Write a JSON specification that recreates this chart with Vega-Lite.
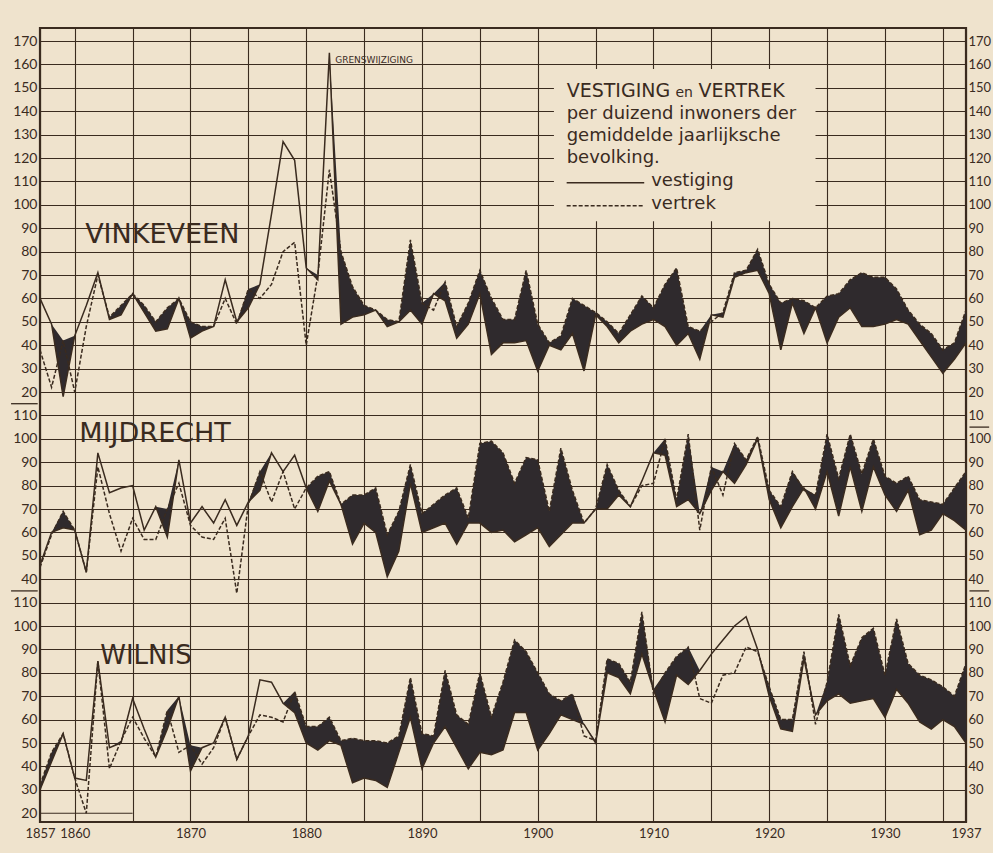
{
"$schema": "https://vega.github.io/schema/vega-lite/v6.json",
"width": 926, "height": 794,
"autosize": {"type": "none"},
"padding": {"left": 40, "top": 28, "right": 27, "bottom": 31},
"background": "#efe3cd",
"config": {
 "view": {"stroke": "#3a2b1f", "strokeWidth": 2.2},
 "axis": {"labelFont": "Lato", "labelFontSize": 14, "labelColor": "#3a2b1f", "domain": false, "ticks": false, "gridColor": "#3a2b1f", "gridOpacity": 1, "gridWidth": 1.1, "title": null, "labelOverlap": false},
 "text": {"font": "DejaVu Sans", "color": "#3a2b1f", "align": "left", "baseline": "alphabetic"}
},
"datasets": {
 "vinkeveen": [
  {"year":1857,"vestiging":60,"vertrek":38},{"year":1858,"vestiging":49,"vertrek":22},{"year":1859,"vestiging":18,"vertrek":42},{"year":1860,"vestiging":44,"vertrek":20},{"year":1861,"vestiging":57,"vertrek":48},{"year":1862,"vestiging":71,"vertrek":70},{"year":1863,"vestiging":51,"vertrek":52},{"year":1864,"vestiging":53,"vertrek":57},{"year":1865,"vestiging":62,"vertrek":62},{"year":1866,"vestiging":54,"vertrek":57},{"year":1867,"vestiging":46,"vertrek":50},{"year":1868,"vestiging":47,"vertrek":56},{"year":1869,"vestiging":60,"vertrek":60},{"year":1870,"vestiging":43,"vertrek":50},{"year":1871,"vestiging":46,"vertrek":48},{"year":1872,"vestiging":48,"vertrek":48},{"year":1873,"vestiging":68,"vertrek":60},{"year":1874,"vestiging":50,"vertrek":49},{"year":1875,"vestiging":56,"vertrek":64},{"year":1876,"vestiging":66,"vertrek":60},{"year":1877,"vestiging":96,"vertrek":66},{"year":1878,"vestiging":127,"vertrek":80},{"year":1879,"vestiging":119,"vertrek":84},{"year":1880,"vestiging":73,"vertrek":40},{"year":1881,"vestiging":68,"vertrek":70},{"year":1882,"vestiging":165,"vertrek":115},{"year":1883,"vestiging":49,"vertrek":80},{"year":1884,"vestiging":52,"vertrek":65},{"year":1885,"vestiging":53,"vertrek":57},{"year":1886,"vestiging":55,"vertrek":55},{"year":1887,"vestiging":48,"vertrek":51},{"year":1888,"vestiging":50,"vertrek":50},{"year":1889,"vestiging":55,"vertrek":85},{"year":1890,"vestiging":49,"vertrek":58},{"year":1891,"vestiging":62,"vertrek":55},{"year":1892,"vestiging":59,"vertrek":67},{"year":1893,"vestiging":43,"vertrek":48},{"year":1894,"vestiging":49,"vertrek":58},{"year":1895,"vestiging":62,"vertrek":72},{"year":1896,"vestiging":36,"vertrek":60},{"year":1897,"vestiging":41,"vertrek":51},{"year":1898,"vestiging":41,"vertrek":51},{"year":1899,"vestiging":42,"vertrek":72},{"year":1900,"vestiging":29,"vertrek":49},{"year":1901,"vestiging":40,"vertrek":41},{"year":1902,"vestiging":38,"vertrek":44},{"year":1903,"vestiging":45,"vertrek":60},{"year":1904,"vestiging":29,"vertrek":57},{"year":1905,"vestiging":53,"vertrek":54},{"year":1906,"vestiging":48,"vertrek":50},{"year":1907,"vestiging":41,"vertrek":45},{"year":1908,"vestiging":46,"vertrek":53},{"year":1909,"vestiging":49,"vertrek":61},{"year":1910,"vestiging":51,"vertrek":56},{"year":1911,"vestiging":48,"vertrek":66},{"year":1912,"vestiging":40,"vertrek":73},{"year":1913,"vestiging":45,"vertrek":48},{"year":1914,"vestiging":34,"vertrek":46},{"year":1915,"vestiging":53,"vertrek":50},{"year":1916,"vestiging":52,"vertrek":54},{"year":1917,"vestiging":69,"vertrek":71},{"year":1918,"vestiging":71,"vertrek":72},{"year":1919,"vestiging":72,"vertrek":81},{"year":1920,"vestiging":62,"vertrek":66},{"year":1921,"vestiging":38,"vertrek":58},{"year":1922,"vestiging":58,"vertrek":60},{"year":1923,"vestiging":45,"vertrek":59},{"year":1924,"vestiging":56,"vertrek":56},{"year":1925,"vestiging":41,"vertrek":61},{"year":1926,"vestiging":52,"vertrek":62},{"year":1927,"vestiging":56,"vertrek":68},{"year":1928,"vestiging":48,"vertrek":71},{"year":1929,"vestiging":48,"vertrek":69},{"year":1930,"vestiging":49,"vertrek":69},{"year":1931,"vestiging":51,"vertrek":64},{"year":1932,"vestiging":49,"vertrek":55},{"year":1933,"vestiging":42,"vertrek":49},{"year":1934,"vestiging":35,"vertrek":45},{"year":1935,"vestiging":28,"vertrek":38},{"year":1936,"vestiging":34,"vertrek":41},{"year":1937,"vestiging":41,"vertrek":55}
 ],
 "mijdrecht": [
  {"year":1857,"vestiging":46,"vertrek":45},{"year":1858,"vestiging":60,"vertrek":59},{"year":1859,"vestiging":62,"vertrek":69},{"year":1860,"vestiging":61,"vertrek":61},{"year":1861,"vestiging":43,"vertrek":43},{"year":1862,"vestiging":94,"vertrek":88},{"year":1863,"vestiging":77,"vertrek":68},{"year":1864,"vestiging":79,"vertrek":52},{"year":1865,"vestiging":80,"vertrek":66},{"year":1866,"vestiging":61,"vertrek":57},{"year":1867,"vestiging":71,"vertrek":57},{"year":1868,"vestiging":58,"vertrek":70},{"year":1869,"vestiging":91,"vertrek":81},{"year":1870,"vestiging":64,"vertrek":63},{"year":1871,"vestiging":71,"vertrek":58},{"year":1872,"vestiging":64,"vertrek":57},{"year":1873,"vestiging":74,"vertrek":66},{"year":1874,"vestiging":63,"vertrek":34},{"year":1875,"vestiging":73,"vertrek":72},{"year":1876,"vestiging":78,"vertrek":86},{"year":1877,"vestiging":94,"vertrek":73},{"year":1878,"vestiging":86,"vertrek":86},{"year":1879,"vestiging":93,"vertrek":70},{"year":1880,"vestiging":79,"vertrek":79},{"year":1881,"vestiging":69,"vertrek":84},{"year":1882,"vestiging":82,"vertrek":86},{"year":1883,"vestiging":72,"vertrek":72},{"year":1884,"vestiging":55,"vertrek":76},{"year":1885,"vestiging":64,"vertrek":76},{"year":1886,"vestiging":60,"vertrek":79},{"year":1887,"vestiging":41,"vertrek":59},{"year":1888,"vestiging":52,"vertrek":69},{"year":1889,"vestiging":81,"vertrek":89},{"year":1890,"vestiging":60,"vertrek":68},{"year":1891,"vestiging":62,"vertrek":72},{"year":1892,"vestiging":64,"vertrek":76},{"year":1893,"vestiging":55,"vertrek":79},{"year":1894,"vestiging":64,"vertrek":66},{"year":1895,"vestiging":64,"vertrek":98},{"year":1896,"vestiging":60,"vertrek":99},{"year":1897,"vestiging":61,"vertrek":94},{"year":1898,"vestiging":56,"vertrek":81},{"year":1899,"vestiging":59,"vertrek":92},{"year":1900,"vestiging":62,"vertrek":91},{"year":1901,"vestiging":54,"vertrek":69},{"year":1902,"vestiging":59,"vertrek":96},{"year":1903,"vestiging":64,"vertrek":78},{"year":1904,"vestiging":64,"vertrek":64},{"year":1905,"vestiging":70,"vertrek":70},{"year":1906,"vestiging":70,"vertrek":89},{"year":1907,"vestiging":76,"vertrek":78},{"year":1908,"vestiging":71,"vertrek":71},{"year":1909,"vestiging":82,"vertrek":80},{"year":1910,"vestiging":94,"vertrek":81},{"year":1911,"vestiging":93,"vertrek":100},{"year":1912,"vestiging":71,"vertrek":74},{"year":1913,"vestiging":74,"vertrek":102},{"year":1914,"vestiging":68,"vertrek":61},{"year":1915,"vestiging":78,"vertrek":88},{"year":1916,"vestiging":86,"vertrek":76},{"year":1917,"vestiging":81,"vertrek":98},{"year":1918,"vestiging":89,"vertrek":91},{"year":1919,"vestiging":100,"vertrek":101},{"year":1920,"vestiging":74,"vertrek":78},{"year":1921,"vestiging":62,"vertrek":71},{"year":1922,"vestiging":71,"vertrek":86},{"year":1923,"vestiging":79,"vertrek":78},{"year":1924,"vestiging":70,"vertrek":76},{"year":1925,"vestiging":86,"vertrek":102},{"year":1926,"vestiging":67,"vertrek":83},{"year":1927,"vestiging":88,"vertrek":102},{"year":1928,"vestiging":69,"vertrek":85},{"year":1929,"vestiging":88,"vertrek":100},{"year":1930,"vestiging":76,"vertrek":84},{"year":1931,"vestiging":69,"vertrek":81},{"year":1932,"vestiging":78,"vertrek":84},{"year":1933,"vestiging":59,"vertrek":74},{"year":1934,"vestiging":61,"vertrek":73},{"year":1935,"vestiging":68,"vertrek":72},{"year":1936,"vestiging":65,"vertrek":79},{"year":1937,"vestiging":61,"vertrek":86}
 ],
 "wilnis": [
  {"year":1857,"vestiging":30,"vertrek":32},{"year":1858,"vestiging":42,"vertrek":46},{"year":1859,"vestiging":54,"vertrek":54},{"year":1860,"vestiging":35,"vertrek":35},{"year":1861,"vestiging":34,"vertrek":20},{"year":1862,"vestiging":85,"vertrek":85},{"year":1863,"vestiging":48,"vertrek":39},{"year":1864,"vestiging":50,"vertrek":51},{"year":1865,"vestiging":69,"vertrek":61},{"year":1866,"vestiging":56,"vertrek":52},{"year":1867,"vestiging":44,"vertrek":44},{"year":1868,"vestiging":56,"vertrek":64},{"year":1869,"vestiging":70,"vertrek":46},{"year":1870,"vestiging":38,"vertrek":49},{"year":1871,"vestiging":48,"vertrek":41},{"year":1872,"vestiging":50,"vertrek":48},{"year":1873,"vestiging":61,"vertrek":61},{"year":1874,"vestiging":43,"vertrek":43},{"year":1875,"vestiging":53,"vertrek":53},{"year":1876,"vestiging":77,"vertrek":62},{"year":1877,"vestiging":76,"vertrek":61},{"year":1878,"vestiging":67,"vertrek":59},{"year":1879,"vestiging":63,"vertrek":72},{"year":1880,"vestiging":50,"vertrek":57},{"year":1881,"vestiging":47,"vertrek":57},{"year":1882,"vestiging":51,"vertrek":61},{"year":1883,"vestiging":49,"vertrek":51},{"year":1884,"vestiging":33,"vertrek":52},{"year":1885,"vestiging":35,"vertrek":51},{"year":1886,"vestiging":34,"vertrek":51},{"year":1887,"vestiging":31,"vertrek":50},{"year":1888,"vestiging":46,"vertrek":53},{"year":1889,"vestiging":61,"vertrek":78},{"year":1890,"vestiging":39,"vertrek":54},{"year":1891,"vestiging":50,"vertrek":53},{"year":1892,"vestiging":57,"vertrek":81},{"year":1893,"vestiging":48,"vertrek":62},{"year":1894,"vestiging":39,"vertrek":58},{"year":1895,"vestiging":46,"vertrek":80},{"year":1896,"vestiging":45,"vertrek":61},{"year":1897,"vestiging":47,"vertrek":76},{"year":1898,"vestiging":63,"vertrek":94},{"year":1899,"vestiging":63,"vertrek":89},{"year":1900,"vestiging":47,"vertrek":80},{"year":1901,"vestiging":54,"vertrek":71},{"year":1902,"vestiging":62,"vertrek":68},{"year":1903,"vestiging":60,"vertrek":71},{"year":1904,"vestiging":58,"vertrek":53},{"year":1905,"vestiging":50,"vertrek":51},{"year":1906,"vestiging":80,"vertrek":86},{"year":1907,"vestiging":78,"vertrek":84},{"year":1908,"vestiging":71,"vertrek":76},{"year":1909,"vestiging":88,"vertrek":106},{"year":1910,"vestiging":73,"vertrek":71},{"year":1911,"vestiging":59,"vertrek":80},{"year":1912,"vestiging":79,"vertrek":87},{"year":1913,"vestiging":75,"vertrek":91},{"year":1914,"vestiging":81,"vertrek":69},{"year":1915,"vestiging":88,"vertrek":67},{"year":1916,"vestiging":94,"vertrek":79},{"year":1917,"vestiging":100,"vertrek":80},{"year":1918,"vestiging":104,"vertrek":91},{"year":1919,"vestiging":90,"vertrek":89},{"year":1920,"vestiging":70,"vertrek":74},{"year":1921,"vestiging":56,"vertrek":60},{"year":1922,"vestiging":55,"vertrek":60},{"year":1923,"vestiging":86,"vertrek":89},{"year":1924,"vestiging":62,"vertrek":58},{"year":1925,"vestiging":68,"vertrek":76},{"year":1926,"vestiging":71,"vertrek":105},{"year":1927,"vestiging":67,"vertrek":83},{"year":1928,"vestiging":68,"vertrek":95},{"year":1929,"vestiging":69,"vertrek":99},{"year":1930,"vestiging":61,"vertrek":79},{"year":1931,"vestiging":73,"vertrek":103},{"year":1932,"vestiging":67,"vertrek":84},{"year":1933,"vestiging":59,"vertrek":79},{"year":1934,"vestiging":56,"vertrek":77},{"year":1935,"vestiging":60,"vertrek":74},{"year":1936,"vestiging":57,"vertrek":70},{"year":1937,"vestiging":50,"vertrek":84}
 ]
},
"encoding": {
 "x": {"field": "year", "type": "quantitative",
  "scale": {"domain": [1857, 1937], "nice": false, "zero": false},
  "axis": {"values": [1857,1860,1865,1870,1875,1880,1885,1890,1895,1900,1905,1910,1915,1920,1925,1930,1935,1937], "format": "d", "grid": true, "labelPadding": 5, "labelFlush": false, "labelFontSize": 13, "labelExpr": "(datum.value % 10 == 0 || datum.value == 1857 || datum.value == 1937) ? datum.label : ''"}}
},
"layer": [
 {
  "data": {"name": "vinkeveen"},
  "layer": [
   {"transform": [{"fold": ["vestiging", "vertrek"]}, {"aggregate": [{"op": "max", "field": "value", "as": "upper"}], "groupby": ["year", "vestiging"]}],
    "mark": {"type": "area", "color": "#2f2a2d"},
    "encoding": {"y": {"field": "vestiging", "type": "quantitative", "scale": {"domain": [-163.76, 175.56], "nice": false, "zero": false},
      "axis": {"orient": "left", "values": [-150,-140,-130,-120,-110,-100,-90,-80,-70,-60,-50,-40,-30,-20,-10,0,10,20,30,40,50,60,70,80,90,100,110,120,130,140,150,160,170], "format": "d", "grid": true, "labelPadding": 3, "labelExpr": "datum.value >= 20 ? datum.label : ''"}},
     "y2": {"field": "upper"}}},
   {"mark": {"type": "line", "color": "#3a2b1f", "strokeWidth": 1.5},
    "encoding": {"y": {"field": "vestiging", "type": "quantitative", "scale": {"domain": [-163.76, 175.56], "nice": false, "zero": false},
      "axis": {"orient": "right", "values": [10,20,30,40,50,60,70,80,90,100,110,120,130,140,150,160,170], "format": "d", "grid": false, "labelPadding": 2, "labelFontSize": 13}}}},
   {"mark": {"type": "line", "color": "#3a2b1f", "strokeWidth": 1.5, "strokeDash": [4, 2]},
    "encoding": {"y": {"field": "vertrek", "type": "quantitative", "scale": {"domain": [-163.76, 175.56], "nice": false, "zero": false}, "axis": null}}},
   {"data": {"values": [{"year": 1901.4, "year2": 1924.0, "v": 158, "v2": 93}]},
    "mark": {"type": "rect", "color": "#efe3cd"},
    "encoding": {"x2": {"field": "year2"}, "y": {"field": "v", "type": "quantitative", "scale": {"domain": [-163.76, 175.56], "nice": false, "zero": false}, "axis": null}, "y2": {"field": "v2"}}},
   {"data": {"values": [{"year": 1902.5, "year2": 1909.2, "v": 109.4}]},
    "mark": {"type": "rule", "color": "#3a2b1f", "strokeWidth": 1.5},
    "encoding": {"x2": {"field": "year2"}, "y": {"field": "v", "type": "quantitative", "scale": {"domain": [-163.76, 175.56], "nice": false, "zero": false}, "axis": null}}},
   {"data": {"values": [{"year": 1902.5, "year2": 1909.2, "v": 99.6}]},
    "mark": {"type": "rule", "color": "#3a2b1f", "strokeWidth": 1.5, "strokeDash": [4, 2]},
    "encoding": {"x2": {"field": "year2"}, "y": {"field": "v", "type": "quantitative", "scale": {"domain": [-163.76, 175.56], "nice": false, "zero": false}, "axis": null}}},
   {"data": {"values": [{"year": 1854.5, "year2": 1856.8, "v": 15}, {"year": 1937.3, "year2": 1939.0, "v": 5}]},
    "mark": {"type": "rule", "color": "#3a2b1f", "strokeWidth": 1.3},
    "encoding": {"x2": {"field": "year2"}, "y": {"field": "v", "type": "quantitative", "scale": {"domain": [-163.76, 175.56], "nice": false, "zero": false}, "axis": null}}},
   {"data": {"values": [{"year": 1860.9, "v": 83.6, "label": "VINKEVEEN"}]},
    "mark": {"type": "text", "fontSize": 27},
    "encoding": {"text": {"field": "label"}, "y": {"field": "v", "type": "quantitative", "scale": {"domain": [-163.76, 175.56], "nice": false, "zero": false}, "axis": null}}},
   {"data": {"values": [{"year": 1882.5, "v": 160.6, "label": "GRENSWIJZIGING"}]},
    "mark": {"type": "text", "fontSize": 9},
    "encoding": {"text": {"field": "label"}, "y": {"field": "v", "type": "quantitative", "scale": {"domain": [-163.76, 175.56], "nice": false, "zero": false}, "axis": null}}},
   {"data": {"values": [{"year": 1902.5, "v": 146, "label": "VESTIGING"}, {"year": 1913.9, "v": 146, "label": "VERTREK"}]},
    "mark": {"type": "text", "fontSize": 19},
    "encoding": {"text": {"field": "label"}, "y": {"field": "v", "type": "quantitative", "scale": {"domain": [-163.76, 175.56], "nice": false, "zero": false}, "axis": null}}},
   {"data": {"values": [{"year": 1911.9, "v": 146, "label": "en"}]},
    "mark": {"type": "text", "fontSize": 14},
    "encoding": {"text": {"field": "label"}, "y": {"field": "v", "type": "quantitative", "scale": {"domain": [-163.76, 175.56], "nice": false, "zero": false}, "axis": null}}},
   {"data": {"values": [{"year": 1902.5, "v": 136.6, "label": "per duizend inwoners der"}, {"year": 1902.5, "v": 127.2, "label": "gemiddelde jaarlijksche"}, {"year": 1902.5, "v": 117.9, "label": "bevolking."}, {"year": 1909.8, "v": 108, "label": "vestiging"}, {"year": 1909.8, "v": 98.3, "label": "vertrek"}]},
    "mark": {"type": "text", "fontSize": 18},
    "encoding": {"text": {"field": "label"}, "y": {"field": "v", "type": "quantitative", "scale": {"domain": [-163.76, 175.56], "nice": false, "zero": false}, "axis": null}}}
  ],
  "resolve": {"axis": {"y": "independent"}}
 },
 {
  "data": {"name": "mijdrecht"},
  "layer": [
   {"transform": [{"fold": ["vestiging", "vertrek"]}, {"aggregate": [{"op": "max", "field": "value", "as": "upper"}], "groupby": ["year", "vestiging"]}],
    "mark": {"type": "area", "color": "#2f2a2d"},
    "encoding": {"y": {"field": "vestiging", "type": "quantitative", "scale": {"domain": [-63.76, 275.56], "nice": false, "zero": false},
      "axis": {"orient": "left", "values": [40,50,60,70,80,90,100,110], "format": "d", "grid": false, "labelPadding": 3}},
     "y2": {"field": "upper"}}},
   {"mark": {"type": "line", "color": "#3a2b1f", "strokeWidth": 1.5},
    "encoding": {"y": {"field": "vestiging", "type": "quantitative", "scale": {"domain": [-63.76, 275.56], "nice": false, "zero": false},
      "axis": {"orient": "right", "values": [40,50,60,70,80,90,100], "format": "d", "grid": false, "labelPadding": 2, "labelFontSize": 13}}}},
   {"mark": {"type": "line", "color": "#3a2b1f", "strokeWidth": 1.5, "strokeDash": [4, 2]},
    "encoding": {"y": {"field": "vertrek", "type": "quantitative", "scale": {"domain": [-63.76, 275.56], "nice": false, "zero": false}, "axis": null}}},
   {"data": {"values": [{"year": 1854.5, "year2": 1856.8, "v": 35}, {"year": 1937.3, "year2": 1939.0, "v": 35}]},
    "mark": {"type": "rule", "color": "#3a2b1f", "strokeWidth": 1.3},
    "encoding": {"x2": {"field": "year2"}, "y": {"field": "v", "type": "quantitative", "scale": {"domain": [-63.76, 275.56], "nice": false, "zero": false}, "axis": null}}},
   {"data": {"values": [{"year": 1860.4, "v": 98.6, "label": "MIJDRECHT"}]},
    "mark": {"type": "text", "fontSize": 27},
    "encoding": {"text": {"field": "label"}, "y": {"field": "v", "type": "quantitative", "scale": {"domain": [-63.76, 275.56], "nice": false, "zero": false}, "axis": null}}}
  ],
  "resolve": {"axis": {"y": "independent"}}
 },
 {
  "data": {"name": "wilnis"},
  "layer": [
   {"transform": [{"fold": ["vestiging", "vertrek"]}, {"aggregate": [{"op": "max", "field": "value", "as": "upper"}], "groupby": ["year", "vestiging"]}],
    "mark": {"type": "area", "color": "#2f2a2d"},
    "encoding": {"y": {"field": "vestiging", "type": "quantitative", "scale": {"domain": [16.24, 355.56], "nice": false, "zero": false},
      "axis": {"orient": "left", "values": [20,30,40,50,60,70,80,90,100,110], "format": "d", "grid": false, "labelPadding": 3}},
     "y2": {"field": "upper"}}},
   {"mark": {"type": "line", "color": "#3a2b1f", "strokeWidth": 1.5},
    "encoding": {"y": {"field": "vestiging", "type": "quantitative", "scale": {"domain": [16.24, 355.56], "nice": false, "zero": false},
      "axis": {"orient": "right", "values": [30,40,50,60,70,80,90,100,110], "format": "d", "grid": false, "labelPadding": 2, "labelFontSize": 13}}}},
   {"mark": {"type": "line", "color": "#3a2b1f", "strokeWidth": 1.5, "strokeDash": [4, 2]},
    "encoding": {"y": {"field": "vertrek", "type": "quantitative", "scale": {"domain": [16.24, 355.56], "nice": false, "zero": false}, "axis": null}}},
   {"data": {"values": [{"year": 1857, "year2": 1865, "v": 20}]},
    "mark": {"type": "rule", "color": "#3a2b1f", "strokeWidth": 1.1},
    "encoding": {"x2": {"field": "year2"}, "y": {"field": "v", "type": "quantitative", "scale": {"domain": [16.24, 355.56], "nice": false, "zero": false}, "axis": null}}},
   {"data": {"values": [{"year": 1862.2, "v": 83.6, "label": "WILNIS"}]},
    "mark": {"type": "text", "fontSize": 26},
    "encoding": {"text": {"field": "label"}, "y": {"field": "v", "type": "quantitative", "scale": {"domain": [16.24, 355.56], "nice": false, "zero": false}, "axis": null}}}
  ],
  "resolve": {"axis": {"y": "independent"}}
 }
],
"resolve": {"scale": {"y": "independent"}, "axis": {"y": "independent"}}
}
